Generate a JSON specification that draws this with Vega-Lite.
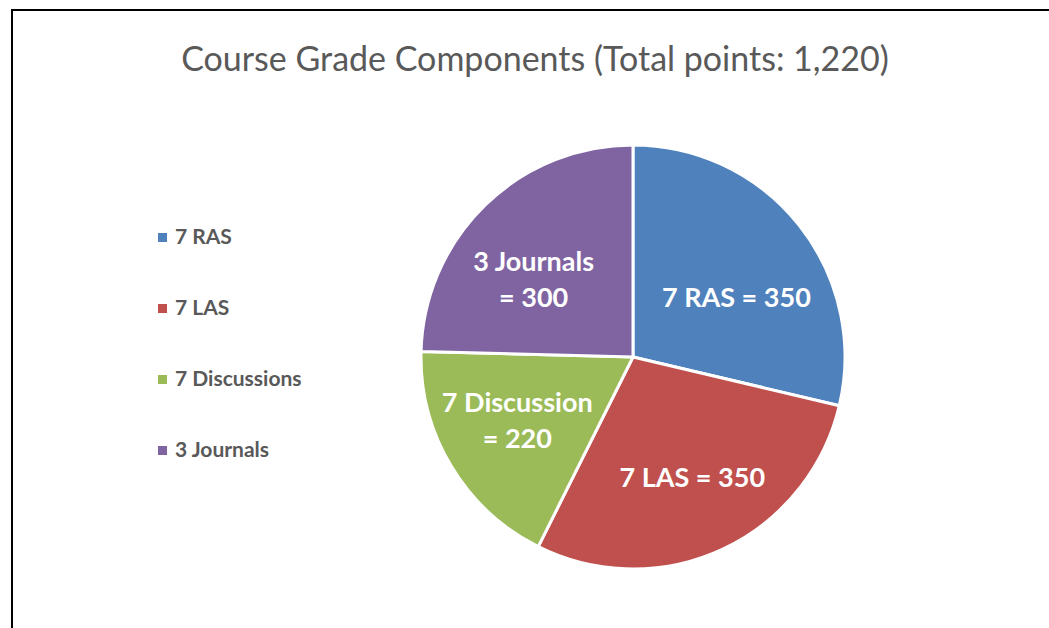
{
  "$schema": "https://vega.github.io/schema/vega-lite/v6.json",
  "width": 1242,
  "height": 694,
  "autosize": {"type": "none"},
  "padding": {"left": 12, "top": 10, "right": 0, "bottom": 0},
  "background": "white",
  "view": {"stroke": "black", "strokeWidth": 2, "fill": "white"},
  "title": {
    "text": "Course Grade Components (Total points: 1,220)",
    "anchor": "middle",
    "dx": -98,
    "dy": 95,
    "offset": 0,
    "baseline": "alphabetic",
    "font": "Lato",
    "fontSize": 34,
    "fontWeight": "normal",
    "color": "#595959"
  },
  "data": {
    "values": [
      {"category": "7 RAS", "points": 350, "idx": 1, "label": "7 RAS = 350"},
      {"category": "7 LAS", "points": 350, "idx": 2, "label": "7 LAS  = 350"},
      {"category": "7 Discussions", "points": 220, "idx": 3, "label": "7 Discussion\n= 220"},
      {"category": "3 Journals", "points": 300, "idx": 4, "label": "3 Journals\n= 300"}
    ]
  },
  "encoding": {
    "theta": {"field": "points", "type": "quantitative", "stack": true},
    "order": {"field": "idx", "type": "quantitative"}
  },
  "layer": [
    {
      "mark": {"type": "arc", "outerRadius": 212, "stroke": "white", "strokeWidth": 3},
      "encoding": {
        "color": {
          "field": "category",
          "type": "nominal",
          "sort": null,
          "scale": {
            "domain": ["7 RAS", "7 LAS", "7 Discussions", "3 Journals"],
            "range": ["#4F81BD", "#C0504D", "#9BBB59", "#8064A2"]
          },
          "legend": {
            "orient": "none",
            "legendX": 140,
            "legendY": 217,
            "title": null,
            "symbolType": "square",
            "symbolSize": 81,
            "symbolStrokeWidth": 0,
            "labelFont": "Lato",
            "labelFontSize": 21,
            "labelFontWeight": "bold",
            "labelColor": "#595959",
            "labelOffset": 2,
            "rowPadding": 49
          }
        }
      }
    },
    {
      "mark": {
        "type": "text",
        "radius": 128,
        "font": "Lato",
        "fontSize": 27,
        "fontWeight": "bold",
        "color": "white",
        "lineBreak": "\n",
        "lineHeight": 36,
        "baseline": "middle",
        "align": "center",
        "dx": {"expr": "datum.idx == 1 ? 3 : datum.idx == 2 ? 5 : datum.idx == 3 ? -6 : -10"},
        "dy": {"expr": "datum.idx == 1 ? 21 : datum.idx == 2 ? 6 : datum.idx == 3 ? -19 : -2"}
      },
      "encoding": {
        "text": {"field": "label"}
      }
    }
  ]
}
